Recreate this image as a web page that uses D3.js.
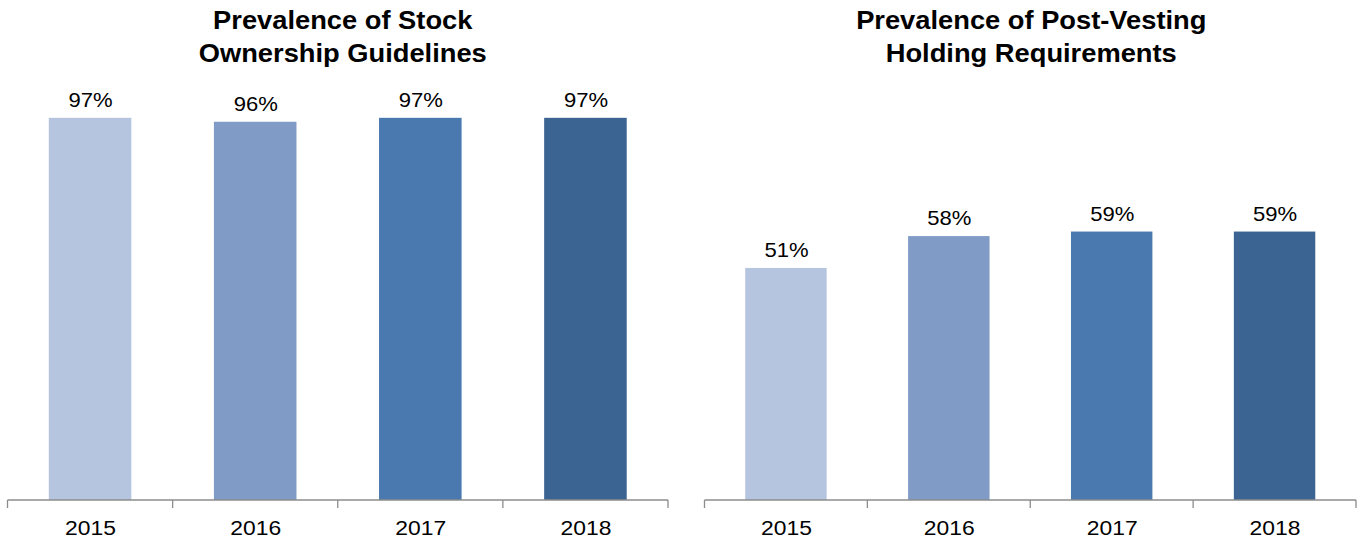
<!DOCTYPE html>
<html>
<head>
<meta charset="utf-8">
<script src="https://cdn.jsdelivr.net/npm/d3@7"></script>
<style>
  html, body { margin: 0; padding: 0; background: #fff; }
  svg { display: block; font-family: "Liberation Sans", Arial, sans-serif; }
</style>
</head>
<body>
<svg id="chart" width="1360" height="540"></svg>
<script>
// Survey years shown on both panels
const years = ["2015", "2016", "2017", "2018"];

// Share of companies with stock ownership guidelines
const ownershipValues = [0.97, 0.96, 0.97, 0.97];

// Share of companies with post-vesting holding requirements
const holdingValues = [0.51, 0.58, 0.59, 0.59];

// Panel titles (two lines each)
const ownershipTitle = ["Prevalence of Stock", "Ownership Guidelines"];
const holdingTitle = ["Prevalence of Post-Vesting", "Holding Requirements"];

// One colour per year, light to dark
const yearColors = ["#b5c4df", "#7f9bc6", "#4a79b0", "#3c6493"];

const svg = d3.select("#chart");
const baseY = 500;

const panels = [
  { title: ownershipTitle, values: ownershipValues, x0: 7.5, x1: 668, yMax: 1.0, yTop: 106, titleDx: 5 },
  { title: holdingTitle, values: holdingValues, x0: 704.5, x1: 1356, yMax: 0.7, yTop: 181.5, titleDx: 1 }
];

const color = d3.scaleOrdinal().domain(years).range(yearColors);
const pct = d3.format(".0%");

// Place a text element at (x, y) with a slight horizontal widening
function placeText(sel, fx, fy, sx) {
  sel.attr("x", 0).attr("y", 0)
    .attr("transform", (d, i) => `translate(${fx(d, i)},${fy(d, i)}) scale(${sx},1)`);
}

panels.forEach(p => {
  const g = svg.append("g");

  const x = d3.scaleBand()
    .domain(years)
    .range([p.x0, p.x1])
    .paddingInner(0.5)
    .paddingOuter(0.25);

  const y = d3.scaleLinear()
    .domain([0, p.yMax])
    .range([baseY, p.yTop]);

  const rows = years.map((yr, i) => ({ year: yr, value: p.values[i] }));

  // Bars
  g.selectAll("rect.bar")
    .data(rows)
    .join("rect")
    .attr("class", "bar")
    .attr("x", d => x(d.year))
    .attr("width", x.bandwidth())
    .attr("y", d => y(d.value))
    .attr("height", d => baseY - y(d.value))
    .attr("fill", d => color(d.year));

  // Value labels
  g.selectAll("text.val")
    .data(rows)
    .join("text")
    .attr("class", "val")
    .attr("text-anchor", "middle")
    .attr("font-size", 21)
    .attr("fill", "#000")
    .text(d => pct(d.value))
    .call(placeText, d => x(d.year) + x.bandwidth() / 2 + 0.5, d => y(d.value) - 11, 1.05);

  // Category axis: baseline with tick marks at category boundaries
  const axis = g.append("g");
  axis.append("line")
    .attr("x1", p.x0).attr("x2", p.x1)
    .attr("y1", baseY).attr("y2", baseY)
    .attr("stroke", "#8c8c8c").attr("stroke-width", 1.3);

  const bounds = d3.range(years.length + 1).map(i => p.x0 + i * (p.x1 - p.x0) / years.length);
  axis.selectAll("line.tick")
    .data(bounds)
    .join("line")
    .attr("class", "tick")
    .attr("x1", d => d).attr("x2", d => d)
    .attr("y1", baseY).attr("y2", baseY + 8)
    .attr("stroke", "#8c8c8c").attr("stroke-width", 1.3);

  axis.selectAll("text.cat")
    .data(years)
    .join("text")
    .attr("class", "cat")
    .attr("text-anchor", "middle")
    .attr("font-size", 21)
    .attr("fill", "#000")
    .text(d => d)
    .call(placeText, d => x(d) + x.bandwidth() / 2 + 0.5, () => 534.5, 1.09);

  // Title
  const cx = (p.x0 + p.x1) / 2 + p.titleDx;
  g.selectAll("text.title")
    .data(p.title)
    .join("text")
    .attr("class", "title")
    .attr("text-anchor", "middle")
    .attr("font-size", 26)
    .attr("font-weight", "bold")
    .attr("fill", "#000")
    .text(d => d)
    .call(placeText, () => cx, (d, i) => 28.5 + i * 33, 1.05);
});
</script>
</body>
</html>
